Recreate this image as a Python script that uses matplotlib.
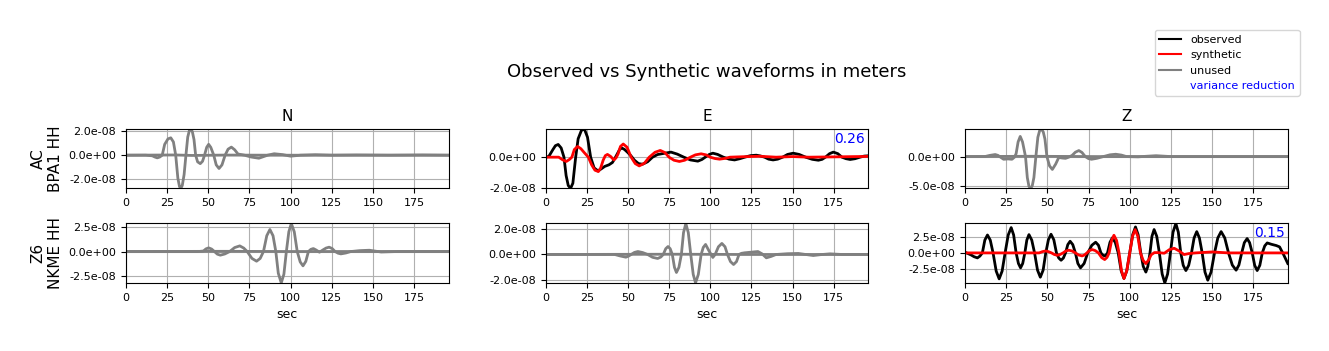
import matplotlib
matplotlib.use('Agg')
import numpy as np
from matplotlib import pyplot as plt
from matplotlib.lines import Line2D
from matplotlib.ticker import FormatStrFormatter

SCALE = 1e-8  # amplitudes below are (sec, amplitude in 1e-8 m) pairs

stations = ['AC\nBPA1 HH', 'Z6\nNKME HH']
components = ['N', 'E', 'Z']
xticks = [0, 25, 50, 75, 100, 125, 150, 175]

# ---- AC.BPA1 ----
n1_obs = [(0, 0), (12, 0), (16, -0.05), (17.5, -0.15), (19, -0.22), (20.5, -0.15), (22, 0),
          (23.5, 0.9), (25.5, 1.35), (27.2, 1.44), (28.8, 1.1), (30.2, 0), (31.5, -1.9),
          (32.5, -2.6), (33.3, -2.75), (34.2, -2.5), (35.3, -1.6), (36.4, 0), (37.5, 1.5),
          (38.5, 2.05), (39.4, 2.17), (40.3, 1.95), (41.3, 1.3), (42.3, 0), (43.5, -0.55),
          (45.1, -0.7), (46.5, -0.5), (47.7, 0), (49, 0.65), (50.2, 0.9), (51.5, 0.65),
          (53.3, 0), (54.8, -0.8), (56.5, -1.1), (58.3, -0.8), (60.2, 0), (62, 0.5),
          (64, 0.67), (66, 0.45), (68, 0.1), (72, 0), (76, -0.15), (80.7, -0.25), (86, 0),
          (90, 0.12), (95, 0.05), (100, -0.08), (106, 0), (115, 0.04), (125, 0),
          (140, 0.02), (160, 0), (180, 0.02), (196, 0)]
n1_syn = [(0, 0), (30, 0.02), (40, -0.02), (60, 0.01), (90, 0), (196, 0)]

e1_obs = [(0, 0), (2, 0.05), (4.5, 0.5), (6, 0.75), (7.7, 0.83), (9.5, 0.6), (11.2, 0),
          (12.5, -1.2), (13.8, -1.85), (15.2, -2.04), (16.6, -1.7), (18.3, 0), (19.8, 1.2),
          (21.8, 1.75), (23.6, 1.84), (25.5, 1.3), (27.4, 0), (29.5, -0.7), (31.9, -0.9),
          (34, -0.75), (36, -0.6), (38.5, -0.5), (40.6, -0.35), (42, -0.1), (43.5, 0.2),
          (45, 0.5), (46.3, 0.6), (48, 0.5), (50, 0.3), (51.8, 0.1), (54, -0.2),
          (56.5, -0.42), (58.9, -0.46), (62, -0.3), (65, 0), (68, 0.17), (72, 0.25),
          (76.2, 0.33), (80, 0.2), (84, 0), (88, -0.18), (92.5, -0.26), (95, -0.15),
          (97, 0), (99.5, 0.18), (101.6, 0.26), (104.5, 0.18), (108, 0), (111.5, -0.13),
          (114.8, -0.18), (118, -0.1), (121, 0), (124.5, 0.1), (128, 0.13), (130.5, 0.08),
          (133, 0), (135.5, -0.13), (138.2, -0.18), (141, -0.13), (144, 0), (147, 0.18),
          (150.4, 0.26), (154, 0.18), (158, 0), (162, -0.14), (165.7, -0.2), (168, -0.14),
          (170, 0), (172.5, 0.23), (174.8, 0.33), (177.5, 0.23), (180, 0), (182.5, -0.1),
          (185, -0.15), (188, -0.1), (191, 0), (193.5, 0.07), (196, 0.09)]
e1_syn = [(0, 0), (8, 0), (10.5, -0.18), (12.6, -0.28), (14.5, -0.15), (16, 0), (17.5, 0.5),
          (19.5, 0.7), (21.5, 0.55), (23.5, 0.3), (26, 0), (28, -0.5), (30, -0.85),
          (32.1, -0.94), (33.5, -0.7), (35, -0.2), (36.3, 0.1), (37.6, 0.18), (39.5, 0.05),
          (41.5, -0.18), (42.8, -0.05), (44, 0.2), (45.5, 0.7), (47.2, 0.86), (49.5, 0.65),
          (52, 0), (54.5, -0.42), (56.9, -0.57), (60, -0.4), (63, 0), (66.5, 0.32),
          (69.7, 0.44), (72.5, 0.3), (75, 0), (78, -0.2), (81.3, -0.28), (84.5, -0.2),
          (88, 0), (91, 0.15), (94.5, 0.22), (97.5, 0.15), (100, 0), (103, -0.09),
          (105.7, -0.13), (109, -0.08), (112, 0), (120, 0.03), (130, 0.06), (140, 0),
          (150, 0.04), (160, 0), (175, 0.02), (190, 0.04), (196, 0.05)]

z1_obs = [(0, 0), (12, 0), (15, 0.2), (18.3, 0.35), (20, 0.2), (21, 0), (23.4, -0.46),
          (26, -0.4), (28.5, -0.46), (30, -0.1), (31, 0.5), (32.2, 2.5), (33.5, 3.45),
          (34.9, 2.5), (36.7, 0), (37.8, -3.6), (38.8, -5.1), (39.8, -5.45), (40.8, -5.0),
          (41.8, -3.6), (43, 0), (44.2, 3.3), (45.3, 4.45), (46.3, 4.72), (47.5, 4.2),
          (48.5, 3.0), (49.7, 0), (51.3, -1.6), (53.0, -2.2), (55, -1.3), (56.9, -0.15),
          (59, -0.25), (61, -0.3), (63, -0.1), (65, 0.2), (67, 0.75), (69.1, 1.03),
          (71, 0.7), (73, 0), (75, -0.35), (76.8, -0.46), (80, -0.3), (84, 0), (88, 0.3),
          (91.5, 0.4), (95, 0.25), (98, 0), (105, -0.05), (110, 0.05), (116, 0.15),
          (125, 0), (196, 0)]
z1_syn = [(0, 0), (40, 0.05), (80, 0), (196, 0)]

# ---- Z6.NKME ----
n2_obs = [(0, 0), (44, 0), (47, 0.05), (48.6, 0.27), (50.2, 0.37), (52, 0.25), (53.7, 0),
          (55.5, -0.27), (57.3, -0.37), (60, -0.25), (63, 0), (66, 0.4), (69.1, 0.57),
          (71.5, 0.35), (73.6, 0), (76.5, -0.7), (79.3, -0.98), (81.5, -0.7), (83.5, 0),
          (85.5, 1.6), (87.4, 2.23), (89.3, 1.6), (91, 0), (92.5, -2.2), (94.3, -3.18),
          (95.9, -2.3), (97.4, 0), (98.9, 2.0), (100.4, 2.84), (102.2, 2.0), (104, 0),
          (105.8, -1.05), (107.5, -1.45), (109.2, -1.0), (110.8, 0), (112.3, 0.22),
          (113.8, 0.3), (115.5, 0.15), (117.5, -0.07), (119.5, 0.15), (121.5, 0.35),
          (123.4, 0.44), (125.2, 0.3), (127, 0), (128.8, -0.17), (130.5, -0.24),
          (133.5, -0.15), (136.6, 0), (142, 0.09), (147.8, 0.13), (151, 0.05),
          (155, -0.05), (165, 0), (196, 0)]
n2_syn = [(0, 0), (60, 0.02), (100, 0), (196, 0)]

e2_obs = [(0, 0), (42, 0), (45.5, -0.12), (48.8, -0.21), (50.5, -0.12), (52, 0), (54, 0.16),
          (56.1, 0.23), (59, 0.15), (62, 0), (65, -0.22), (68.1, -0.31), (70, -0.2),
          (71.5, 0), (73, 0.45), (74.4, 0.62), (75.7, 0.45), (77, 0), (78.3, -1.0),
          (79.5, -1.4), (81, -1.0), (82.5, 0), (83.8, 1.7), (85.2, 2.41), (86.7, 1.7),
          (88.2, 0), (89.7, -1.55), (91.1, -2.21), (92.8, -1.55), (94.5, 0), (95.8, 0.55),
          (97.2, 0.78), (99.4, 0.25), (101.6, -0.23), (103, 0), (105, 0.6), (107.1, 0.86),
          (109, 0.6), (110.5, 0), (112.3, -0.55), (114.2, -0.78), (116, -0.55), (117.5, 0),
          (119, 0.09), (120.9, 0.13), (125, 0.18), (129, 0.23), (131.5, 0.05),
          (134.1, -0.26), (137, -0.15), (140, 0), (147, 0.06), (153.5, 0.08), (158, 0),
          (162.6, -0.08), (168, 0), (172.8, 0.05), (180, 0), (196, 0)]
e2_syn = [(0, 0), (80, 0.02), (120, 0), (196, 0)]

z2_obs = [(0, 0.1), (3.5, -0.3), (5.5, -0.6), (7.5, -0.78), (9, -0.5), (10.5, 0), (12, 2.0),
          (13.6, 2.8), (15.3, 2.0), (17, 0), (18.9, -2.85), (20.7, -4.06), (22.5, -2.85),
          (24.3, 0), (26.2, 2.8), (28.0, 3.96), (29.5, 2.8), (31, 0), (32.4, -1.65),
          (33.7, -2.34), (35, -1.65), (36.3, 0), (37.5, 2.0), (38.8, 2.86), (40.5, 2.0),
          (42.2, 0), (44, -2.7), (45.7, -3.8), (47.4, -2.7), (49, 0), (50.6, 2.05),
          (52.2, 2.92), (53.9, 2.05), (55.5, 0), (56.9, -0.8), (58.3, -1.15), (59.7, -0.8),
          (61, 0), (62.4, 1.3), (63.8, 1.82), (65.4, 1.3), (67, 0), (68.5, -1.65),
          (70.1, -2.34), (72.3, -1.65), (74.5, 0), (77, 1.2), (79.3, 1.67), (81, 1.2),
          (82.5, 0), (83.7, -0.35), (84.8, -0.47), (85.7, -0.3), (86.5, 0), (88, 1.65),
          (89.4, 2.34), (91.2, 1.65), (93, 0), (94.8, -2.8), (96.5, -4.0), (98.2, -2.8),
          (100, 0), (101.8, 2.85), (103.5, 4.06), (105.1, 2.85), (106.7, 0), (108.2, -2.1),
          (109.8, -3.0), (111, -2.1), (112.3, 0), (113.5, 2.6), (114.8, 3.65), (116.4, 2.6),
          (118, 0), (119.7, -3.3), (121.3, -4.69), (123, -3.3), (124.7, 0), (126.3, 3.25),
          (128.0, 4.6), (129.5, 3.25), (131, 0), (132.5, -1.95), (134.1, -2.76),
          (135.8, -1.95), (137.5, 0), (139.1, 2.35), (140.7, 3.33), (142.3, 2.35), (144, 0),
          (145.7, -3.0), (147.4, -4.27), (149.4, -3.0), (151.5, 0), (153.5, 2.35),
          (155.5, 3.33), (157.7, 2.35), (160, 0), (162.3, -1.9), (164.6, -2.7),
          (166.3, -1.9), (168, 0), (169.6, 1.6), (171.3, 2.24), (172.8, 1.6), (174.4, 0),
          (175.9, -1.95), (177.4, -2.76), (179, -1.95), (180.5, 0), (182, 1.1),
          (183.5, 1.56), (186, 1.35), (189, 1.15), (191, 0.94), (193.5, -0.3), (196, -1.66)]
z2_syn = [(0, 0), (45, 0), (47, 0.2), (48.8, 0.3), (50.6, 0.2), (52.5, 0), (54.2, -0.25),
          (55.9, -0.36), (57.7, -0.25), (59.5, 0), (61.2, 0.3), (63, 0.42), (65, 0.3),
          (67, 0), (69, -0.33), (71.1, -0.47), (72.5, -0.33), (74, 0), (75.6, 0.37),
          (77.2, 0.52), (79, 0.37), (81, 0), (83, -0.75), (84.8, -1.04), (86.2, -0.7),
          (87.5, 0), (89, 1.95), (90.4, 2.76), (92, 1.95), (93.5, 0), (95, -2.8),
          (96.5, -4.0), (98.2, -2.8), (100, 0), (101.7, 2.6), (103.3, 3.65), (104.9, 2.6),
          (106.5, 0), (108.2, -1.2), (109.8, -1.67), (111.5, -1.1), (113, -0.3),
          (115, 0.05), (117, 0.05), (121, -0.05), (124, 0.5), (127, 0.73), (130, 0.3),
          (133, -0.26), (136, -0.1), (140, 0), (150, 0.15), (160, 0), (196, 0)]

# per-panel: (observed, synthetic, used in inversion, variance reduction, yticks in 1e-8)
panels = [
    [(n1_obs, n1_syn, False, None, [-2, 0, 2]),
     (e1_obs, e1_syn, True, '0.26', [-2, 0]),
     (z1_obs, z1_syn, False, None, [-5, 0])],
    [(n2_obs, n2_syn, False, None, [-2.5, 0, 2.5]),
     (e2_obs, e2_syn, False, None, [-2, 0, 2]),
     (z2_obs, z2_syn, True, '0.15', [-2.5, 0, 2.5])],
]

fig, axes = plt.subplots(2, 3, figsize=(13.29, 3.51), dpi=100)
fig.subplots_adjust(left=0.0948, right=0.969, top=0.6325, bottom=0.194, wspace=0.3, hspace=0.59)

for i in range(2):
    for j in range(3):
        ax = axes[i, j]
        obs, syn, used, vr, yt = panels[i][j]
        ot, ov = np.array(obs).T
        st, sv = np.array(syn).T
        if used:
            ax.plot(ot, ov * SCALE, color='black', lw=2)
            ax.plot(st, sv * SCALE, color='red', lw=2)
            ax.text(0.99, 0.95, vr, transform=ax.transAxes, ha='right', va='top',
                    color='blue', fontsize=10)
        else:
            ax.plot(ot, ov * SCALE, color='gray', lw=2)
            ax.plot(st, sv * SCALE, color='gray', lw=2)
        ax.margins(x=0, y=0)
        ax.set_xticks(xticks)
        ax.set_yticks(np.array(yt) * SCALE)
        ax.yaxis.set_major_formatter(FormatStrFormatter('%.1e'))
        ax.tick_params(labelsize=8)
        ax.grid(True)
        if i == 0:
            ax.set_title(components[j], fontsize=11)
        else:
            ax.set_xlabel('sec', fontsize=9)
        if j == 0:
            ax.set_ylabel(stations[i], fontsize=11)

fig.text(0.532, 0.795, 'Observed vs Synthetic waveforms in meters', ha='center', va='center',
         fontsize=13)

handles = [Line2D([], [], color='black', lw=1.5),
           Line2D([], [], color='red', lw=1.5),
           Line2D([], [], color='gray', lw=1.5),
           Line2D([], [], color='none', lw=1.5)]
labels = ['observed', 'synthetic', 'unused', 'variance reduction']
leg = fig.legend(handles, labels, loc='upper right', bbox_to_anchor=(0.982, 0.93), fontsize=8)
leg.get_texts()[3].set_color('blue')

plt.savefig('out.png')
